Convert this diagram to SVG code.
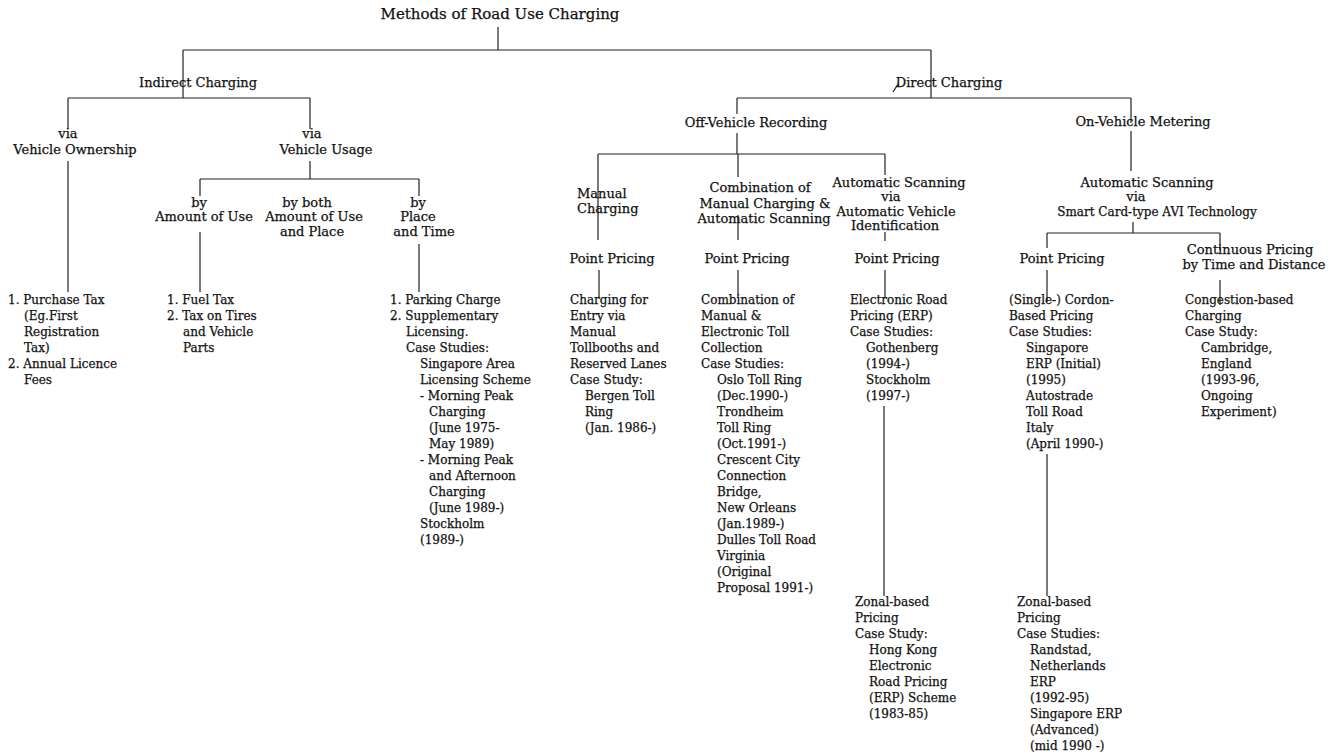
<svg xmlns="http://www.w3.org/2000/svg" width="1331" height="755" viewBox="0 0 1331 755">
<style>
text{font-family:"DejaVu Serif","Liberation Serif",serif;fill:#111;stroke:#111;stroke-width:0.25}
.t{font-size:15px;text-anchor:middle}
.h{font-size:13px;text-anchor:middle}
.hl{font-size:13px}
.b{font-size:12px}
#connectors path{fill:none;stroke:#222;stroke-width:1.2}
</style>
<rect width="1331" height="755" fill="#fff"/>
<g id="connectors">
<path d="M498,27V50M183,50H931M183,50V98M931,50V98"/>
<path d="M68,98H310M68,98V129M310,98V129M68,161V292M310,161V179M200,179H419M200,179V196M419,179V196M200,232V292M419,244V292"/>
<path d="M737,98H1131M737,98V114M737,133V154M598,154H885M598,154V240M738,154V177M738,215V240M885,154V175M885,232V241"/>
<path d="M599,270V298M738,270V298M885,270V298M884,406V596"/>
<path d="M1131,98V123M1131,131V171M1133,222V233M1047,233H1220M1047,233V248M1220,233V250M1047,270V302M1220,280V305M1047,454V596"/>
<path d="M893,92L898,84" stroke-width="0.8"/>
</g>
<g id="n-root"><text class="t" x="500" y="19">Methods of Road Use Charging</text></g>
<g id="n-indirect"><text class="h" x="198" y="87">Indirect Charging</text></g>
<g id="n-direct"><text class="h" x="949" y="87">Direct Charging</text></g>
<g id="n-ownership"><text class="h"><tspan x="68" y="138">via</tspan><tspan x="75" y="154">Vehicle Ownership</tspan></text></g>
<g id="n-usage"><text class="h"><tspan x="312" y="138">via</tspan><tspan x="326" y="154">Vehicle Usage</tspan></text></g>
<g id="n-amount"><text class="h"><tspan x="199" y="207">by</tspan><tspan x="204" y="221">Amount of Use</tspan></text></g>
<g id="n-both"><text class="h"><tspan x="307" y="207">by both</tspan><tspan x="314" y="221">Amount of Use</tspan><tspan x="312" y="236">and Place</tspan></text></g>
<g id="n-placetime"><text class="h"><tspan x="418" y="207">by</tspan><tspan x="418" y="221">Place</tspan><tspan x="424" y="236">and Time</tspan></text></g>
<g id="n-offvehicle"><text class="h" x="756" y="127">Off-Vehicle Recording</text></g>
<g id="n-onvehicle"><text class="h" x="1143" y="126">On-Vehicle Metering</text></g>
<g id="n-manual"><text class="hl"><tspan x="577" y="198">Manual</tspan><tspan x="577" y="213">Charging</tspan></text></g>
<g id="n-combination"><text class="h"><tspan x="760" y="192">Combination of</tspan><tspan x="765" y="208">Manual Charging &amp;</tspan><tspan x="764" y="223">Automatic Scanning</tspan></text></g>
<g id="n-avi"><text class="h"><tspan x="899" y="187">Automatic Scanning</tspan><tspan x="891" y="201">via</tspan><tspan x="896" y="216">Automatic Vehicle</tspan><tspan x="895" y="230">Identification</tspan></text></g>
<g id="n-smartcard"><text class="h"><tspan x="1147" y="187">Automatic Scanning</tspan><tspan x="1136" y="201">via</tspan><tspan x="1157" y="216" font-size="12">Smart Card-type AVI Technology</tspan></text></g>
<g id="n-pp1"><text class="h" x="612" y="263">Point Pricing</text></g>
<g id="n-pp2"><text class="h" x="747" y="263">Point Pricing</text></g>
<g id="n-pp3"><text class="h" x="897" y="263">Point Pricing</text></g>
<g id="n-pp4"><text class="h" x="1062" y="263">Point Pricing</text></g>
<g id="n-continuous"><text class="h"><tspan x="1250" y="254">Continuous Pricing</tspan><tspan x="1254" y="269">by Time and Distance</tspan></text></g>
<g id="n-purchase"><text class="b"><tspan x="8" y="304">1. Purchase Tax</tspan><tspan x="24" y="320">(Eg.First</tspan><tspan x="24" y="336">Registration</tspan><tspan x="24" y="352">Tax)</tspan><tspan x="8" y="368">2. Annual Licence</tspan><tspan x="24" y="384">Fees</tspan></text></g>
<g id="n-fuel"><text class="b"><tspan x="167" y="304">1. Fuel Tax</tspan><tspan x="167" y="320">2. Tax on Tires</tspan><tspan x="183" y="336">and Vehicle</tspan><tspan x="183" y="352">Parts</tspan></text></g>
<g id="n-parking"><text class="b"><tspan x="390" y="304">1. Parking Charge</tspan><tspan x="390" y="320">2. Supplementary</tspan><tspan x="406" y="336">Licensing.</tspan><tspan x="406" y="352">Case Studies:</tspan><tspan x="420" y="368">Singapore Area</tspan><tspan x="420" y="384">Licensing Scheme</tspan><tspan x="420" y="400">- Morning Peak</tspan><tspan x="429" y="416">Charging</tspan><tspan x="429" y="432">(June 1975-</tspan><tspan x="429" y="448">May 1989)</tspan><tspan x="420" y="464">- Morning Peak</tspan><tspan x="429" y="480">and Afternoon</tspan><tspan x="429" y="496">Charging</tspan><tspan x="429" y="512">(June 1989-)</tspan><tspan x="420" y="528">Stockholm</tspan><tspan x="420" y="544">(1989-)</tspan></text></g>
<g id="n-bergen"><text class="b"><tspan x="570" y="304">Charging for</tspan><tspan x="570" y="320">Entry via</tspan><tspan x="570" y="336">Manual</tspan><tspan x="570" y="352">Tollbooths and</tspan><tspan x="570" y="368">Reserved Lanes</tspan><tspan x="570" y="384">Case Study:</tspan><tspan x="585" y="400">Bergen Toll</tspan><tspan x="585" y="416">Ring</tspan><tspan x="585" y="432">(Jan. 1986-)</tspan></text></g>
<g id="n-oslo"><text class="b"><tspan x="701" y="304">Combination of</tspan><tspan x="701" y="320">Manual &amp;</tspan><tspan x="701" y="336">Electronic Toll</tspan><tspan x="701" y="352">Collection</tspan><tspan x="701" y="368">Case Studies:</tspan><tspan x="717" y="384">Oslo Toll Ring</tspan><tspan x="717" y="400">(Dec.1990-)</tspan><tspan x="717" y="416">Trondheim</tspan><tspan x="717" y="432">Toll Ring</tspan><tspan x="717" y="448">(Oct.1991-)</tspan><tspan x="717" y="464">Crescent City</tspan><tspan x="717" y="480">Connection</tspan><tspan x="717" y="496">Bridge,</tspan><tspan x="717" y="512">New Orleans</tspan><tspan x="717" y="528">(Jan.1989-)</tspan><tspan x="717" y="544">Dulles Toll Road</tspan><tspan x="717" y="560">Virginia</tspan><tspan x="717" y="576">(Original</tspan><tspan x="717" y="592">Proposal 1991-)</tspan></text></g>
<g id="n-erp"><text class="b"><tspan x="850" y="304">Electronic Road</tspan><tspan x="850" y="320">Pricing (ERP)</tspan><tspan x="850" y="336">Case Studies:</tspan><tspan x="866" y="352">Gothenberg</tspan><tspan x="866" y="368">(1994-)</tspan><tspan x="866" y="384">Stockholm</tspan><tspan x="866" y="400">(1997-)</tspan></text></g>
<g id="n-cordon"><text class="b"><tspan x="1009" y="304">(Single-) Cordon-</tspan><tspan x="1009" y="320">Based Pricing</tspan><tspan x="1009" y="336">Case Studies:</tspan><tspan x="1026" y="352">Singapore</tspan><tspan x="1026" y="368">ERP (Initial)</tspan><tspan x="1026" y="384">(1995)</tspan><tspan x="1026" y="400">Autostrade</tspan><tspan x="1026" y="416">Toll Road</tspan><tspan x="1026" y="432">Italy</tspan><tspan x="1026" y="448">(April 1990-)</tspan></text></g>
<g id="n-congestion"><text class="b"><tspan x="1185" y="304">Congestion-based</tspan><tspan x="1185" y="320">Charging</tspan><tspan x="1185" y="336">Case Study:</tspan><tspan x="1201" y="352">Cambridge,</tspan><tspan x="1201" y="368">England</tspan><tspan x="1201" y="384">(1993-96,</tspan><tspan x="1201" y="400">Ongoing</tspan><tspan x="1201" y="416">Experiment)</tspan></text></g>
<g id="n-zonal-hk"><text class="b"><tspan x="855" y="606">Zonal-based</tspan><tspan x="855" y="622">Pricing</tspan><tspan x="855" y="638">Case Study:</tspan><tspan x="869" y="654">Hong Kong</tspan><tspan x="869" y="670">Electronic</tspan><tspan x="869" y="686">Road Pricing</tspan><tspan x="869" y="702">(ERP) Scheme</tspan><tspan x="869" y="718">(1983-85)</tspan></text></g>
<g id="n-zonal-sg"><text class="b"><tspan x="1017" y="606">Zonal-based</tspan><tspan x="1017" y="622">Pricing</tspan><tspan x="1017" y="638">Case Studies:</tspan><tspan x="1030" y="654">Randstad,</tspan><tspan x="1030" y="670">Netherlands</tspan><tspan x="1030" y="686">ERP</tspan><tspan x="1030" y="702">(1992-95)</tspan><tspan x="1030" y="718">Singapore ERP</tspan><tspan x="1030" y="734">(Advanced)</tspan><tspan x="1030" y="750">(mid 1990 -)</tspan></text></g>
</svg>
